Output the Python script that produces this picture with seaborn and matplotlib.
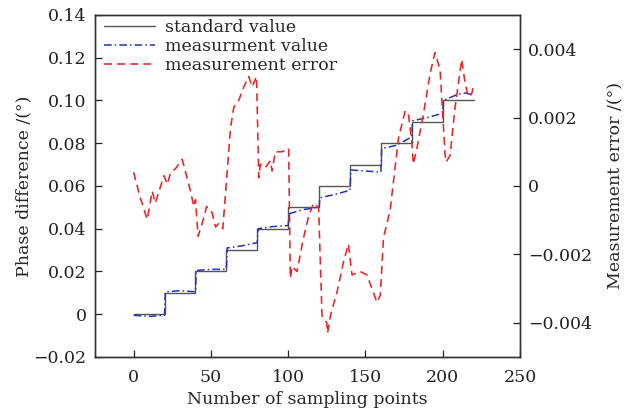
import numpy as np
import pandas as pd
import matplotlib
matplotlib.use("Agg")
import matplotlib.pyplot as plt
import seaborn as sns

# ---------------- data ----------------
# standard value (step levels, each held over 20 sampling points)
std_edges = [0, 20, 40, 60, 80, 100, 120, 140, 160, 180, 200, 220]
std_levels = [0.00, 0.01, 0.02, 0.03, 0.04, 0.05, 0.06, 0.07, 0.08, 0.09, 0.10]

# measured value
meas_x = [0, 10, 20, 20.5, 30, 40, 40.5, 50, 60, 60.5, 70, 80, 80.5, 90, 100,
          100.5, 110, 120, 120.5, 130, 140, 140.5, 150, 160, 160.5, 170, 180,
          180.5, 190, 200, 200.5, 210, 215, 220]
meas_y = [-0.0005, -0.001, -0.0005, 0.0105, 0.011, 0.0105, 0.0205, 0.021, 0.021,
          0.031, 0.032, 0.0335, 0.040, 0.041, 0.0415, 0.047, 0.049, 0.050,
          0.0545, 0.056, 0.058, 0.0675, 0.067, 0.0665, 0.0775, 0.079, 0.083,
          0.0905, 0.092, 0.094, 0.1000, 0.103, 0.1035, 0.1025]

# measurement error
err_x = [0, 4, 8.8, 12, 14, 19.6, 21.8, 24, 27, 31.4, 36.8, 38.9, 40, 41.7, 45.4,
         47.2, 50.8, 53, 55, 57.7, 59.4, 62.7, 64.8, 68, 71.3, 74.5, 76.7, 79.5,
         81, 82, 85.3, 88.5, 89.6, 91.7, 96, 100.3, 101.4, 102.5, 105.7, 110,
         113.3, 116.5, 119.7, 121.9, 125, 125.5, 127.3, 131.6, 135.9, 139, 141.3,
         146.6, 150.9, 154.2, 157.4, 159.6, 161.7, 163.9, 166, 171.4, 175.7,
         177.8, 180, 181, 183.3, 187.5, 191.9, 195, 198.3, 201.5, 202.2, 204.8,
         208, 212.3, 214.5, 216.6, 218.8, 220.3]
err_y = [0.0004, -0.0003, -0.00098, -0.00015, -0.0005, 0.0003, 0.00005, 0.0004,
         0.0005, 0.00078, -0.00015, -0.0006, -0.0004, -0.00147, -0.00093,
         -0.0006, -0.00078, -0.0012, -0.0011, -0.00125, -0.00024, 0.0017, 0.0023,
         0.0025, 0.0029, 0.0032, 0.0029, 0.0032, 0.00024, 0.00064, 0.00054,
         0.00074, 0.00044, 0.001, 0.001, 0.0011, -0.0027, -0.00235, -0.0025,
         -0.0015, -0.00088, -0.0005, -0.00064, -0.0038, -0.004, -0.0043, -0.0038,
         -0.0031, -0.0022, -0.0017, -0.0026, -0.0025, -0.0026, -0.003, -0.0034,
         -0.0032, -0.0015, -0.0011, -0.0007, 0.0014, 0.0022, 0.0021, 0.0013,
         0.00064, 0.0011, 0.0021, 0.0033, 0.0039, 0.0034, 0.00093, 0.0007, 0.0009,
         0.0023, 0.0037, 0.003, 0.0026, 0.0027, 0.003]

# build step table for standard value
sx, sy = [], []
for i, lv in enumerate(std_levels):
    sx += [std_edges[i], std_edges[i + 1]]
    sy += [lv, lv]
df_std = pd.DataFrame({"x": sx, "y": sy})
df_meas = pd.DataFrame({"x": meas_x, "y": meas_y})
df_err = pd.DataFrame({"x": err_x, "y": err_y})

# ---------------- style ----------------
sns.set_style("ticks")
plt.rcParams["font.family"] = ["DejaVu Serif"]
plt.rcParams["mathtext.fontset"] = "dejavuserif"
FS = 12.5

fig = plt.figure(figsize=(6.28, 4.15), dpi=100)
ax = fig.add_axes([0.1513, 0.1398, 0.828 - 0.1513, 0.9639 - 0.1398])
ax2 = ax.twinx()

sns.lineplot(data=df_std, x="x", y="y", ax=ax, estimator=None, sort=False,
             color="#555555", lw=1.0, label="standard value", legend=False)
sns.lineplot(data=df_meas, x="x", y="y", ax=ax, estimator=None, sort=False,
             color="#2233bb", lw=1.1, linestyle=(0, (5, 2, 1, 2)),
             label="measurment value", legend=False)
sns.lineplot(data=df_err, x="x", y="y", ax=ax2, estimator=None, sort=False,
             color="#ee2222", lw=1.15, linestyle=(0, (5, 3.2)),
             label="measurement error", legend=False)

ax.set_xlim(-25, 250)
ax.set_ylim(-0.02, 0.14)
ax2.set_ylim(-0.005, 0.005)

ax.set_xticks([0, 50, 100, 150, 200, 250])
ax.set_yticks([-0.02, 0, 0.02, 0.04, 0.06, 0.08, 0.10, 0.12, 0.14])
ax.set_yticklabels(["\u22120.02", "0", "0.02", "0.04", "0.06", "0.08",
                    "0.10", "0.12", "0.14"])
ax2.set_yticks([-0.004, -0.002, 0, 0.002, 0.004])
ax2.set_yticklabels(["\u22120.004", "\u22120.002", "0", "0.002", "0.004"])

for a in (ax, ax2):
    a.tick_params(direction="in", length=5, width=0.9, labelsize=FS,
                  colors="#222222", pad=6)
    for s in a.spines.values():
        s.set_linewidth(1.0)
        s.set_color("#333333")
ax.tick_params(axis="x", pad=9)

ax.set_xlabel("Number of sampling points", fontsize=FS, labelpad=3)
ax.set_ylabel("Phase difference /(°)", fontsize=FS, labelpad=1)
ax2.set_ylabel("Measurement error /(°)", fontsize=FS, labelpad=11)

h1, l1 = ax.get_legend_handles_labels()
h2, l2 = ax2.get_legend_handles_labels()
ax2.legend(h1 + h2, l1 + l2, loc="upper left", frameon=False, fontsize=FS,
           handlelength=2.9, handletextpad=0.6, labelspacing=0.12,
           borderaxespad=0.15, borderpad=0.1,
           bbox_to_anchor=(0.012, 1.0))

fig.savefig("out.png", dpi=100)
